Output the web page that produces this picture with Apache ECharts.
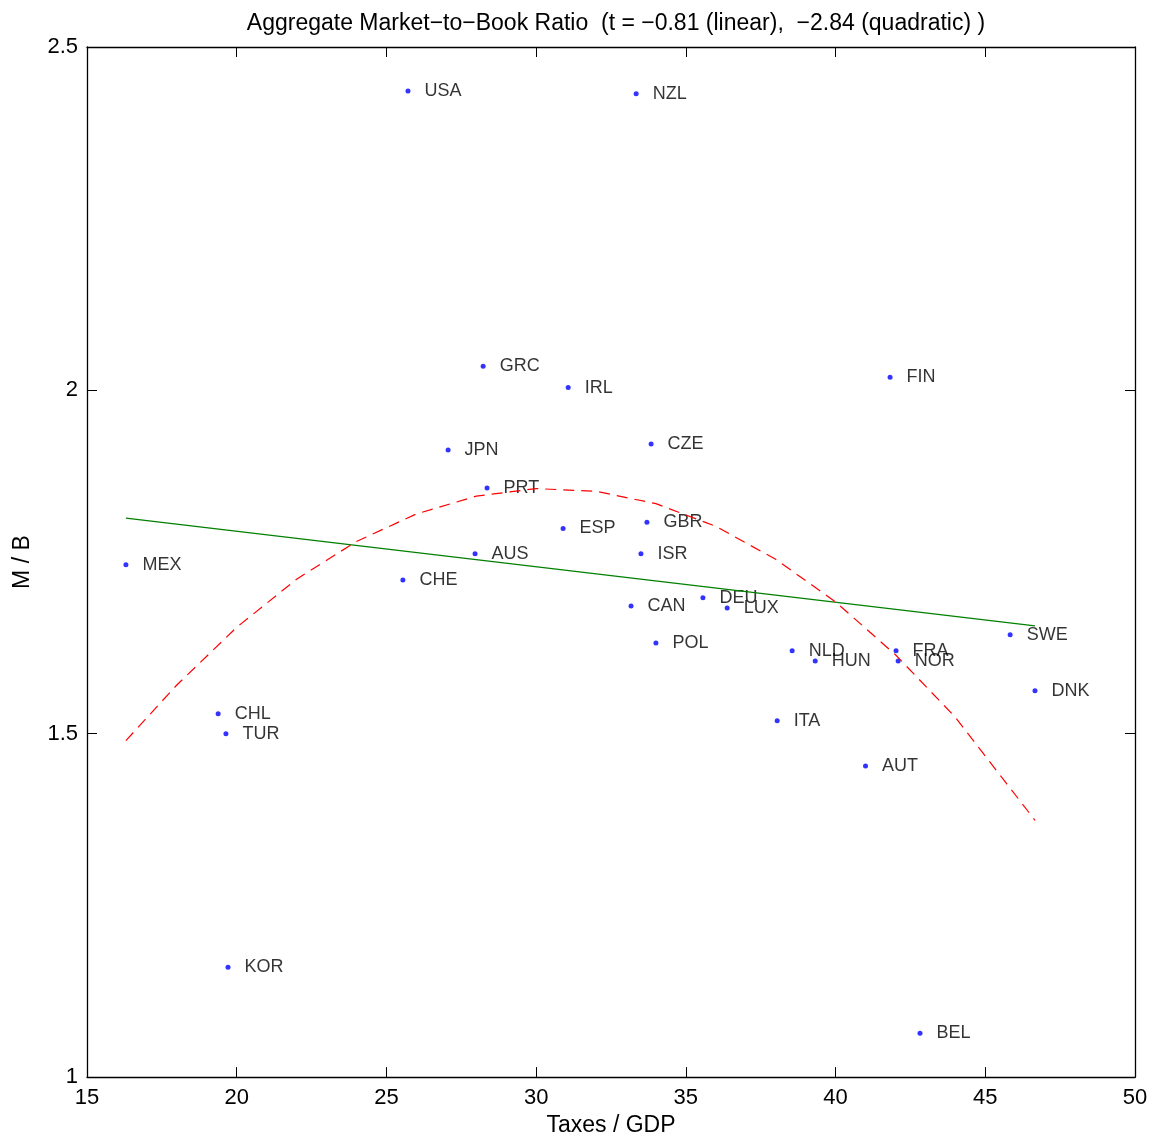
<!DOCTYPE html>
<html>
<head>
<meta charset="utf-8">
<script src="https://cdn.jsdelivr.net/npm/echarts@6/dist/echarts.min.js"></script>
<style>
html,body{margin:0;padding:0;background:#fff;}
#chart{width:1156px;height:1142px;}
</style>
</head>
<body>
<div id="chart"></div>
<script>
// Data
const countries = ['USA','NZL','GRC','IRL','FIN','JPN','CZE','PRT','ESP','GBR','AUS','ISR','MEX','CHE','CAN','DEU','LUX','POL','SWE','NLD','HUN','FRA','NOR','DNK','ITA','CHL','TUR','AUT','KOR','BEL'];
const taxes = [25.72,33.34,28.23,31.07,41.82,27.06,33.84,28.36,30.90,33.70,27.96,33.50,16.30,25.55,33.17,35.57,36.38,34.00,45.83,38.55,39.32,42.02,42.09,46.66,38.05,19.38,19.64,41.00,19.71,42.82];
const mb = [2.436,2.432,2.035,2.004,2.019,1.913,1.922,1.858,1.799,1.808,1.762,1.762,1.746,1.724,1.686,1.698,1.683,1.632,1.644,1.621,1.606,1.621,1.606,1.5625,1.519,1.529,1.500,1.453,1.160,1.064];

// Fitted lines
const linX = [16.30, 46.66];
const linY = [1.814, 1.657];
const quadX = [16.30, 18, 20, 22, 24, 26, 28, 30, 32, 34, 36, 38, 40, 42, 44, 46.66];
const quadY = [1.490, 1.571, 1.655, 1.725, 1.780, 1.820, 1.846, 1.857, 1.853, 1.835, 1.802, 1.754, 1.692, 1.615, 1.524, 1.374];

const xTicks = [15,20,25,30,35,40,45,50];
const yTicks = [1,1.5,2,2.5];

const FONT = '"Liberation Sans", Arial, Helvetica, sans-serif';

const chart = echarts.init(document.getElementById('chart'), null, {renderer:'canvas'});

const axisCommon = {
  axisLine:{show:true, onZero:false, lineStyle:{color:'#000', width:1.3}},
  axisTick:{show:true, inside:true, length:10, lineStyle:{color:'#000', width:1}},
  splitLine:{show:false}
};

const option = {
  animation:false,
  backgroundColor:'#fff',
  title:{
    text:'Aggregate Market\u2212to\u2212Book Ratio  (t = \u22120.81 (linear),  \u22122.84 (quadratic) )',
    left:611, top:7, textAlign:'center',
    textStyle:{fontFamily:FONT, fontSize:23, fontWeight:'normal', color:'#000'}
  },
  grid:{left:87, right:21, top:47, bottom:59, containLabel:false},
  xAxis:[
    Object.assign({}, axisCommon, {
      type:'value', min:15, max:50, interval:5, position:'bottom',
      name:'Taxes / GDP', nameLocation:'middle', nameGap:36,
      nameTextStyle:{fontFamily:FONT, fontSize:23, color:'#000'},
      axisLabel:{fontFamily:FONT, fontSize:22, color:'#000', margin:10,
        formatter:v => xTicks.includes(v) ? String(v) : ''}
    }),
    Object.assign({}, axisCommon, {
      type:'value', min:15, max:50, interval:5, position:'top',
      axisLabel:{show:false}
    })
  ],
  yAxis:[
    Object.assign({}, axisCommon, {
      type:'value', min:1, max:2.5, interval:0.5, position:'left',
      name:'M / B', nameLocation:'middle', nameGap:53, nameRotate:90,
      nameTextStyle:{fontFamily:FONT, fontSize:23, color:'#000'},
      axisLabel:{fontFamily:FONT, fontSize:22, color:'#000', margin:9,
        formatter:v => yTicks.includes(v) ? String(v) : ''}
    }),
    Object.assign({}, axisCommon, {
      type:'value', min:1, max:2.5, interval:0.5, position:'right',
      axisLabel:{show:false}
    })
  ],
  series:[
    {
      type:'line', xAxisIndex:0, yAxisIndex:0,
      data:linX.map((x,i)=>[x, linY[i]]),
      symbol:'none', silent:true,
      lineStyle:{color:'#008000', width:1.2, type:'solid'}
    },
    {
      type:'line', xAxisIndex:0, yAxisIndex:0,
      data:quadX.map((x,i)=>[x, quadY[i]]),
      symbol:'none', silent:true,
      lineStyle:{color:'#ff0000', width:1.2, type:[11,7]}
    },
    {
      type:'scatter', xAxisIndex:0, yAxisIndex:0,
      symbol:'circle', symbolSize:5,
      itemStyle:{color:'#0000ff'},
      data:countries.map((c,i)=>({name:c, value:[taxes[i], mb[i]]})),
      label:{show:true, position:'right', distance:14,
        formatter:p => p.name,
        fontFamily:FONT, fontSize:18, color:'#000'},
      labelLayout:{hideOverlap:false}
    }
  ]
};
chart.setOption(option);
</script>
</body>
</html>
